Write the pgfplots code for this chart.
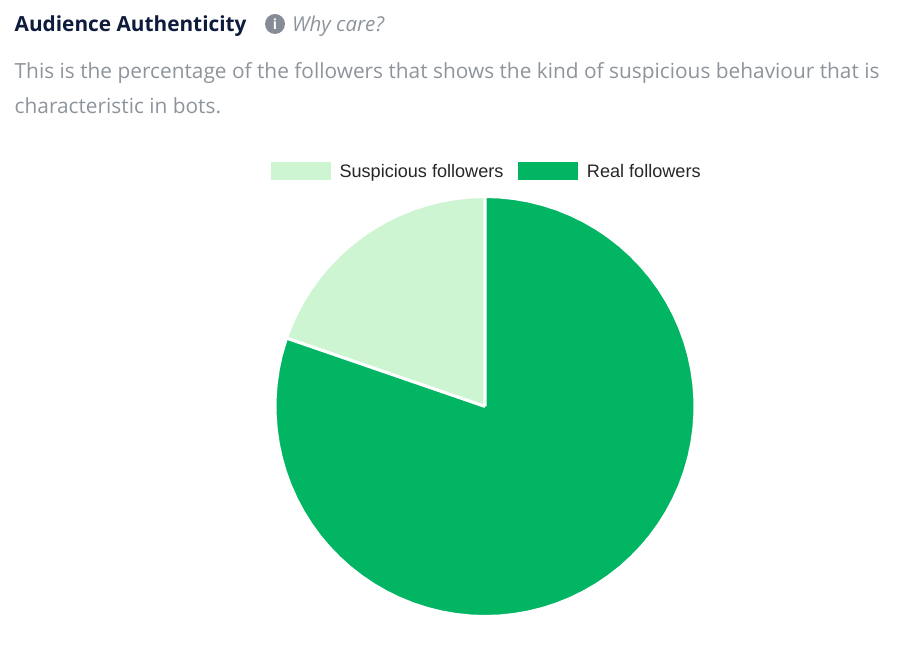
\documentclass[border=0pt]{standalone}
\usepackage{pgfplots}
\pgfplotsset{compat=1.18}
\usepackage{fontspec}
\setmainfont{Open Sans}
\newfontfamily\legendfont{Liberation Sans}
\definecolor{susp}{HTML}{CDF5D1}
\definecolor{real}{HTML}{02B562}
\definecolor{titlec}{HTML}{0E1B3D}
\definecolor{bodyc}{HTML}{8E949C}
\definecolor{iconc}{HTML}{868C96}
\begin{document}
\begin{tikzpicture}
\path[use as bounding box] (0pt,0pt) rectangle (900pt,652pt);
\begin{axis}[
  at={(0pt,0pt)}, anchor=south west,
  scale only axis, width=900pt, height=652pt,
  xmin=-485, xmax=415, ymin=-245.5, ymax=406.5,
  hide axis, clip=false,
  legend columns=2,
  legend style={draw=none, fill=none, at={(axis cs:-214,235)}, anchor=west,
    inner sep=0pt, outer sep=0pt, font=\legendfont\fontsize{18.1}{20}\selectfont,
    text=black!85,
    /tikz/every even column/.style={column sep=15pt},
    nodes={inner sep=0pt, outer sep=0pt, anchor=base west}},
  legend cell align=left,
  legend image code/.code={\fill[#1,draw=none,line width=0pt] (0pt,-3pt) rectangle (60pt,15pt);\path (67pt,0pt);},
]
\addplot[fill=susp, draw=white, line width=3pt, line join=round, data cs=polar] coordinates {
(0,0) (90,210) (94,210) (98,210) (102,210) (106,210) (110,210) (114,210) (118,210) (122,210) (126,210)
(130,210) (134,210) (138,210) (142,210) (146,210) (150,210) (154,210) (158,210) (161,210) (0,0)
};
\addlegendentry{Suspicious followers}
\addplot[fill=real, draw=white, line width=3pt, line join=round, data cs=polar] coordinates {
(0,0) (161,210) (166,210) (170,210) (174,210) (178,210) (182,210) (186,210) (190,210) (194,210) (198,210)
(202,210) (206,210) (210,210) (214,210) (218,210) (222,210) (226,210) (230,210) (234,210) (238,210)
(242,210) (246,210) (250,210) (254,210) (258,210) (262,210) (266,210) (270,210) (274,210) (278,210)
(282,210) (286,210) (290,210) (294,210) (298,210) (302,210) (306,210) (310,210) (314,210) (318,210)
(322,210) (326,210) (330,210) (334,210) (338,210) (342,210) (346,210) (350,210) (354,210) (358,210)
(362,210) (366,210) (370,210) (374,210) (378,210) (382,210) (386,210) (390,210) (394,210) (398,210)
(402,210) (406,210) (410,210) (414,210) (418,210) (422,210) (426,210) (430,210) (434,210) (438,210)
(442,210) (446,210) (450,210) (0,0)
};
\addlegendentry{Real followers}
% page text: x = px-485, y = 406.5-py
\node[anchor=base west, inner sep=0pt, text=titlec] at (axis cs:-470.5,375)
  {\fontsize{20.8}{24}\selectfont\bfseries Audience Authenticity};
\fill[iconc] (axis cs:-210,382.5) circle[radius=10pt];
\node[text=white, inner sep=0pt] at (axis cs:-210,382.5) {\fontsize{14}{16}\selectfont\bfseries i};
\node[anchor=base west, inner sep=0pt, text=bodyc] at (axis cs:-193,375)
  {\fontsize{20.5}{24}\selectfont\itshape Why care?};
\node[anchor=base west, inner sep=0pt, text=bodyc] at (axis cs:-470.5,328)
  {\fontsize{20.85}{24}\selectfont This is the percentage of the followers that shows the kind of suspicious behaviour that is};
\node[anchor=base west, inner sep=0pt, text=bodyc] at (axis cs:-470.5,293)
  {\fontsize{20.85}{24}\selectfont characteristic in bots.};
\end{axis}
\end{tikzpicture}
\end{document}
